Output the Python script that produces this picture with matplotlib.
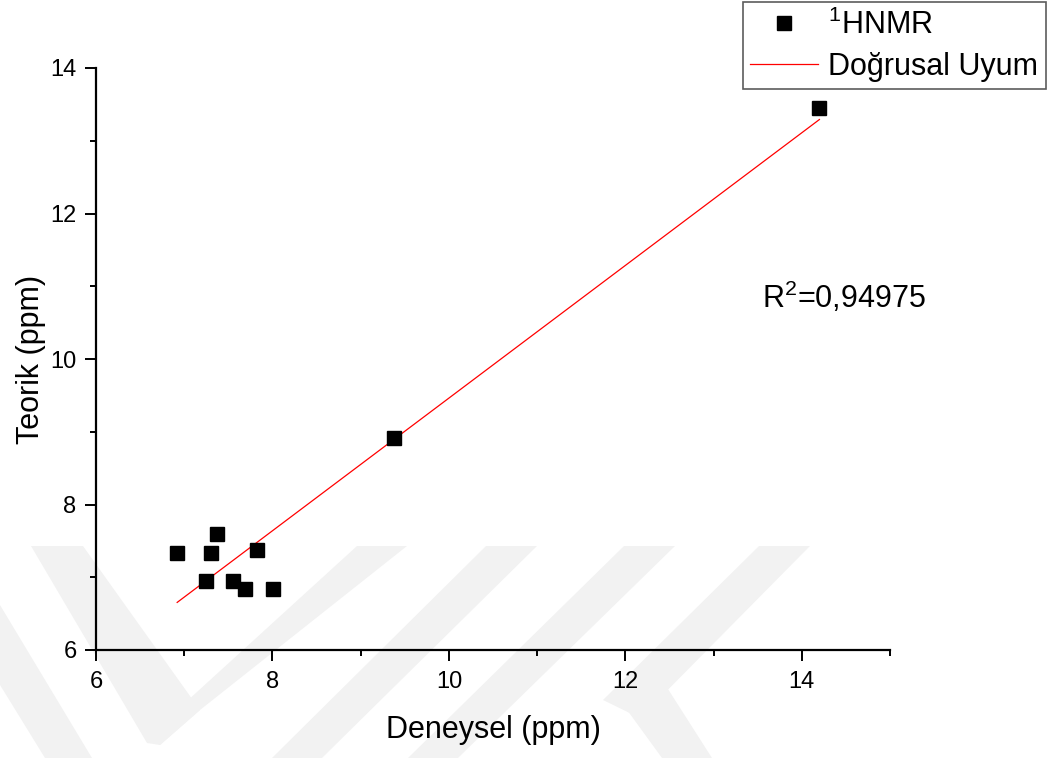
import numpy as np
import matplotlib
matplotlib.use("Agg")
import matplotlib.pyplot as plt
from matplotlib.patches import Polygon

plt.rcParams['font.family'] = ['Liberation Sans', 'DejaVu Sans']
plt.rcParams['mathtext.default'] = 'regular'

# experimental vs. calculated 1H NMR shifts (ppm)
deneysel = [7.37, 6.92, 7.30, 7.82, 7.25, 7.55, 7.69, 8.01, 9.38, 14.20]
teorik = [7.60, 7.33, 7.33, 7.37, 6.95, 6.95, 6.84, 6.84, 8.91, 13.45]
r2_text = "R$^2$=0,94975"

x_ticks = [6, 8, 10, 12, 14]
y_ticks = [6, 8, 10, 12, 14]

W, H = 1064, 758


def watermark(fig):
    # faint chevron logo behind the plot, outlines in pixel units
    shapes = [
        [(31, 546), (83, 546), (200, 710), (160, 745), (147, 743)],
        [(357, 546), (407, 546), (200, 710), (160, 745), (152, 733)],
        [(0, 605), (0, 685), (45, 758), (92, 758)],
        [(486, 546), (537, 546), (322, 758), (272, 758)],
        [(624, 546), (675, 546), (458, 758), (408, 758)],
        [(759, 546), (810, 546), (640, 718), (603, 700)],
        [(614, 692), (652, 664), (712, 758), (662, 758)],
    ]
    for pts in shapes:
        pts = [(x / W, 1 - y / H) for x, y in pts]
        fig.add_artist(Polygon(pts, closed=True, facecolor='#f2f2f2',
                               edgecolor='none', transform=fig.transFigure,
                               zorder=-1))


fig = plt.figure(figsize=(W / 100, H / 100), dpi=100)
watermark(fig)
ax = fig.add_axes([96 / W, 1 - 650 / H, (890 - 96) / W, (650 - 68) / H])
ax.set_facecolor('none')

x = np.array(deneysel)
y = np.array(teorik)
slope, intercept = np.polyfit(x, y, 1)
xf = np.array([x.min(), x.max()])

ax.plot(x, y, 's', color='black', markersize=9.5, label='$^1$HNMR', zorder=3)
ax.plot(xf, slope * xf + intercept, '-', color='red', lw=0.9,
        label='Doğrusal Uyum', zorder=2)

ax.set_xlim(6, 15)
ax.set_ylim(6, 14)
ax.set_xticks(x_ticks)
ax.set_yticks(y_ticks)
ax.set_xticks(np.arange(7, 16, 2), minor=True)
ax.set_yticks(np.arange(7, 14, 2), minor=True)

for side in ['top', 'right']:
    ax.spines[side].set_visible(False)
for side in ['left', 'bottom']:
    ax.spines[side].set_linewidth(1.6)

ax.tick_params(which='major', direction='out', length=8, width=1.4,
               labelsize=17, pad=6)
ax.tick_params(axis='x', which='major', pad=7)
ax.tick_params(which='minor', direction='out', length=4.5, width=1.4)

ax.set_xlabel('Deneysel (ppm)', fontsize=22, labelpad=16)
ax.set_ylabel('Teorik (ppm)', fontsize=22, labelpad=3)

ax.text(762 / W, 1 - 297 / H, r2_text, transform=fig.transFigure,
        fontsize=22, va='center', ha='left')

leg = ax.legend(loc='upper right', bbox_to_anchor=(1046 / W, 1 - 2 / H),
                bbox_transform=fig.transFigure, fontsize=22, frameon=True,
                fancybox=False, borderaxespad=0, handlelength=2.2,
                handletextpad=0.35, borderpad=0.25, labelspacing=0.35)
leg.get_frame().set_edgecolor('#333333')
leg.get_frame().set_linewidth(1.2)

fig.savefig('out.png', dpi=100)
